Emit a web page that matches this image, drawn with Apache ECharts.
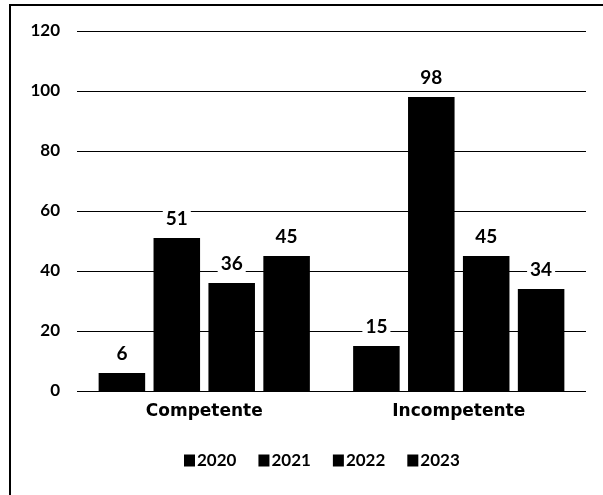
<!DOCTYPE html>
<html><head><meta charset="utf-8">
<script src="https://cdn.jsdelivr.net/npm/echarts@6/dist/echarts.min.js"></script>
<style>html,body{margin:0;padding:0;background:#fff}#c{width:603px;height:495px}</style>
</head><body><div id="c"></div>
<script>
const categories = ['Competente', 'Incompetente'];
const seriesNames = ['2020', '2021', '2022', '2023'];
const v2020 = [6, 15];
const v2021 = [51, 98];
const v2022 = [36, 45];
const v2023 = [45, 34];
const values = [v2020, v2021, v2022, v2023];
const yTicks = { min: 0, max: 120, interval: 20 };

const font = 'Lato, "Open Sans", sans-serif';
const catFont = '"DejaVu Sans", Lato, sans-serif';
const chart = echarts.init(document.getElementById('c'), null, { renderer: 'canvas' });
chart.setOption({
  animation: false,
  backgroundColor: '#fff',
  graphic: [{
    type: 'rect', silent: true, z: 100,
    shape: { x: 10, y: 5, width: 700, height: 600 },
    style: { fill: 'none', stroke: '#000', lineWidth: 2 }
  }],
  grid: { left: 77, right: 17, top: 31, bottom: 104, containLabel: false },
  legend: {
    bottom: 21, left: 179,
    itemWidth: 11, itemHeight: 12, itemGap: 22,
    icon: 'rect',
    textStyle: { fontFamily: font, fontWeight: 'bold', fontSize: 17, color: '#000', padding: [0, 0, 0, -3] },
    data: seriesNames
  },
  xAxis: {
    type: 'category', data: categories,
    axisLine: { show: false }, axisTick: { show: false },
    axisLabel: { fontFamily: catFont, fontWeight: 'bold', fontSize: 17, color: '#000', margin: 12 }
  },
  yAxis: {
    type: 'value', min: yTicks.min, max: yTicks.max, interval: yTicks.interval,
    axisLine: { show: false }, axisTick: { show: false },
    axisLabel: { fontFamily: font, fontWeight: 'bold', fontSize: 17, color: '#000', margin: 17 },
    splitLine: { lineStyle: { color: '#000', width: 1 } }
  },
  series: seriesNames.map((n, i) => ({
    name: n, type: 'bar', data: values[i],
    barGap: '18%', barCategoryGap: '17%',
    itemStyle: { color: '#000' },
    label: { show: true, position: 'top', distance: 10, fontFamily: font, fontWeight: 'bold', fontSize: 19, color: '#000', backgroundColor: '#fff', padding: [0, 3] }
  }))
});
</script></body></html>
